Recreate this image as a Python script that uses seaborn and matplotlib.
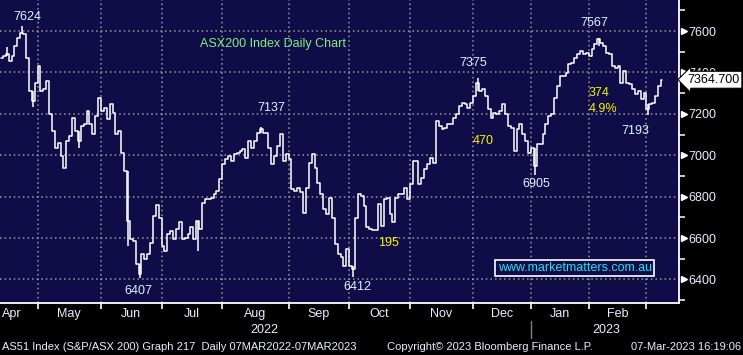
import matplotlib
matplotlib.use('Agg')
import matplotlib.pyplot as plt
import matplotlib.transforms as mtransforms
import seaborn as sns
import pandas as pd
import numpy as np

# daily closes (trading days, early Apr 2022 -> 07 Mar 2023)
closes = [
    7471, 7479, 7487, 7455, 7479, 7528, 7568, 7592, 7584, 7471,
    7310, 7262, 7350, 7431, 7310, 7318, 7359, 7198, 7117, 7037,
    7061, 6997, 6940, 7069, 7093, 7182, 7117, 7069, 7141, 7149,
    7214, 7149, 7101, 7190, 7278, 7214, 7230, 7174, 7246, 7206,
    7101, 7117, 7013, 6924, 6683, 6594, 6586, 6474, 6425, 6522,
    6498, 6522, 6578, 6707, 6760, 6699, 6562, 6538, 6619, 6635,
    6594, 6643, 6675, 6594, 6602, 6619, 6651, 6594, 6683, 6643,
    6771, 6787, 6787, 6795, 6812, 6828, 6884, 6956, 6981, 6997,
    6973, 7005, 7013, 7021, 7029, 6989, 7069, 7037, 7069, 7109,
    7125, 7109, 7109, 7037, 6956, 6997, 7045, 7101, 6973, 7005,
    6981, 6836, 6828, 6844, 6820, 6723, 6844, 6964, 7005, 6940,
    6868, 6812, 6739, 6715, 6795, 6699, 6570, 6522, 6506, 6466,
    6546, 6466, 6450, 6699, 6812, 6804, 6755, 6651, 6643, 6638,
    6638, 6763, 6659, 6787, 6795, 6715, 6675, 6795, 6812, 6812,
    6844, 6787, 6860, 6973, 6973, 6860, 6892, 6932, 6956, 6989,
    6964, 7166, 7141, 7125, 7133, 7149, 7149, 7182, 7198, 7238,
    7254, 7246, 7230, 7254, 7286, 7351, 7310, 7318, 7286, 7222,
    7182, 7206, 7198, 7214, 7246, 7198, 7141, 7133, 7021, 7125,
    7149, 7101, 7069, 7013, 7037, 6948, 7053, 7053, 7101, 7149,
    7190, 7198, 7278, 7335, 7383, 7383, 7399, 7439, 7447, 7471,
    7487, 7503, 7487, 7495, 7479, 7511, 7536, 7560, 7544, 7528,
    7495, 7487, 7431, 7423, 7431, 7351, 7407, 7351, 7342, 7318,
    7294, 7310, 7270, 7302, 7222, 7246, 7254, 7286, 7335, 7364.7,
]
last_price = 7364.7

# visible intraday wicks: day index, low, high
wick_day = [2, 7, 11, 27, 44, 48, 68, 90, 122, 165, 185, 207, 224]
wick_low = [7479, 7584, 7233, 7037, 6562, 6407, 6538, 7109, 6412, 7310, 6905, 7528, 7193]
wick_high = [7523, 7624, 7310, 7117, 6924, 6474, 6683, 7137, 6466, 7375, 7037, 7567, 7246]

months = ['Apr', 'May', 'Jun', 'Jul', 'Aug', 'Sep', 'Oct', 'Nov', 'Dec', 'Jan', 'Feb']
# first trading-day index of each month from May onward
month_starts = [13, 35, 56, 77, 100, 121, 142, 164, 184, 204, 224]
years = ['2022', '2023']

# (text, day index, price, colour)
labels = [
    ('7624', 8.9, 7668, 'w'),
    ('7137', 93.4, 7228, 'w'),
    ('7375', 163.5, 7445, 'w'),
    ('7567', 205.4, 7639, 'w'),
    ('7193', 219.6, 7117, 'w'),
    ('6905', 185.3, 6861, 'w'),
    ('6407', 47.3, 6344, 'w'),
    ('6412', 123.2, 6364, 'w'),
    ('470', 166.9, 7069, 'y'),
    ('374', 207.1, 7300, 'y'),
    ('4.9%', 208.5, 7223, 'y'),
    ('195', 134.3, 6576, 'y'),
]

navy = '#100C48'
grid_c = '#9A9A9A'
txt_w = '#E6EEFF'
yellow = '#F5F500'

sns.set_style('dark', {'axes.facecolor': navy, 'figure.facecolor': 'black'})
plt.rcParams['font.family'] = ['Liberation Sans', 'DejaVu Sans']

df = pd.DataFrame({'day': np.arange(len(closes)), 'close': closes})

fig = plt.figure(figsize=(7.43, 3.55), dpi=100)
ax = fig.add_axes([0, 1 - 303 / 355, 679 / 743, 303 / 355])
ax.set_facecolor(navy)

sns.lineplot(data=df, x='day', y='close', ax=ax, color='white', lw=1.1,
             drawstyle='steps-mid')
ax.vlines(wick_day, wick_low, wick_high, color='white', lw=1.1)

ax.set_xlim(-0.5, 234.8)
ax.set_ylim(6286, 7750)

bounds = [m - 0.5 for m in month_starts]
yt = np.arange(6400, 7601, 200)

# dotted grid
for b in bounds:
    ax.axvline(b, color=grid_c, lw=1.1, ls=(0, (1, 2)), zorder=0)
for v in yt:
    ax.axhline(v, color=grid_c, lw=1.1, ls=(0, (1, 2)), zorder=0)

for s in ['left', 'top']:
    ax.spines[s].set_visible(False)
for s in ['right', 'bottom']:
    ax.spines[s].set_color('white')
    ax.spines[s].set_linewidth(1.3)

ax.set_xlabel('')
ax.set_ylabel('')
ax.set_xticks(bounds)
ax.set_xticklabels([])
ax.tick_params(axis='x', colors='white', length=4, width=1.2, direction='out', bottom=True)

ax.yaxis.tick_right()
ax.set_yticks(yt)
ax.set_yticklabels([str(v) for v in yt])
ax.set_yticks(np.arange(6300, 7750, 100), minor=True)
ax.tick_params(axis='y', which='major', length=0, pad=7, labelsize=9, labelcolor=txt_w)
ax.tick_params(axis='y', which='minor', length=4, width=1.1, color='white', right=True)

ytrans = mtransforms.blended_transform_factory(ax.transAxes, ax.transData)
ax.plot([1.007] * len(yt), yt, marker='>', ms=5, color='white', ls='none',
        transform=ytrans, clip_on=False)

# current price tag
ax.text(1.012, last_price, '7364.700', transform=ytrans, ha='left', va='center',
        fontsize=9, color='black', zorder=10,
        bbox=dict(boxstyle='larrow,pad=0.2', fc='white', ec='black', lw=0.8))

# month and year labels
xtrans = mtransforms.blended_transform_factory(ax.transData, ax.transAxes)
edges = [-5] + bounds
for i, m in enumerate(months):
    ax.text((edges[i] + edges[i + 1]) / 2, -0.037, m, transform=xtrans,
            ha='center', va='center', fontsize=9, color=txt_w, clip_on=False)
ax.text((bounds[0] + bounds[8]) / 2 - 7, -0.09, years[0], transform=xtrans,
        ha='center', va='center', fontsize=9, color=txt_w, clip_on=False)
ax.text((bounds[8] + bounds[10]) / 2 + 6, -0.09, years[1], transform=xtrans,
        ha='center', va='center', fontsize=9, color=txt_w, clip_on=False)
ax.plot([bounds[8], bounds[8]], [-0.06, -0.115], color='#808080', lw=1,
        transform=xtrans, clip_on=False)

for t, x, y, c in labels:
    ax.text(x, y, t, ha='center', va='center', fontsize=9,
            color=txt_w if c == 'w' else yellow)

ax.text(68.8, 7537, 'ASX200 Index Daily Chart', ha='left', va='center',
        fontsize=9, color='#84F084')
ax.text(198.6, 6455, 'www.marketmatters.com.au', ha='center', va='center',
        fontsize=9, color='#20E0F0',
        bbox=dict(boxstyle='square,pad=0.18', fc=navy, ec='white', lw=1.2))

fig.text(0.003, 1 - 347 / 355, 'AS51 Index (S&P/ASX 200) Graph 217  Daily 07MAR2022-07MAR2023',
         ha='left', va='center', fontsize=8, color=txt_w)
fig.text(387 / 743, 1 - 347 / 355, 'Copyright\u00a9 2023 Bloomberg Finance L.P.',
         ha='left', va='center', fontsize=8, color=txt_w)
fig.text(0.997, 1 - 347 / 355, '07-Mar-2023 16:19:06',
         ha='right', va='center', fontsize=8, color=txt_w)

fig.savefig('out.png', dpi=100, facecolor='black')
